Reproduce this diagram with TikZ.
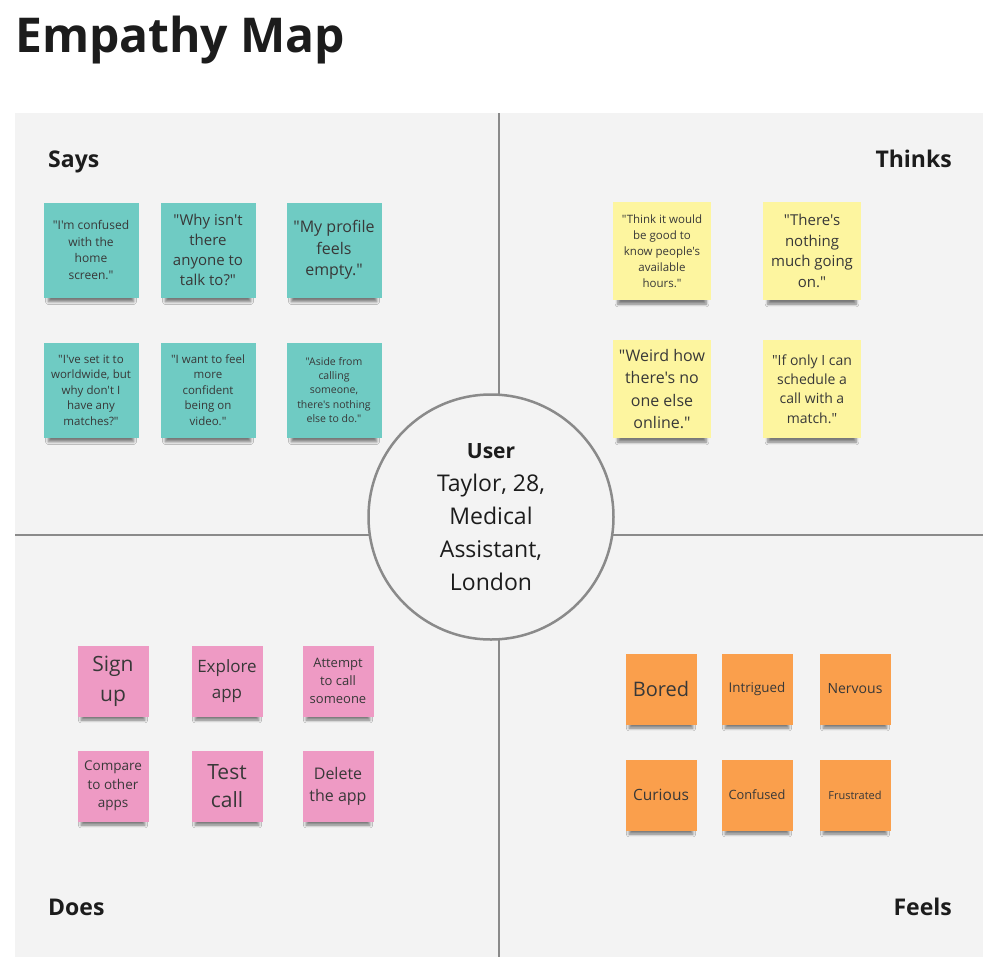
\documentclass[tikz,border=0pt]{standalone}
\usepackage{fontspec}
\setmainfont{Open Sans}[Ligatures=TeXOff]
\usetikzlibrary{shadows.blur}
\definecolor{panelgray}{HTML}{F3F3F3}
\definecolor{linegray}{HTML}{8A8A8A}
\definecolor{inkdark}{HTML}{1C1C1C}
\definecolor{notetext}{HTML}{383838}
\definecolor{sayteal}{HTML}{6FCBC3}
\definecolor{thinkyellow}{HTML}{FDF59F}
\definecolor{doespink}{HTML}{EE9AC4}
\definecolor{feelorange}{HTML}{FA9F4C}
\newcommand{\fs}[2]{\fontsize{#1}{#2}\selectfont}
\tikzset{
  sticky/.style 2 args={minimum width=#1, minimum height=#1, inner sep=0pt, align=center,
    text=notetext, blur shadow={shadow xshift=0pt, shadow yshift=#2,
    shadow scale=0.9, shadow opacity=50, shadow blur steps=6, shadow blur radius=3pt}},
  says/.style={sticky={95pt}{-10pt}, fill=sayteal},
  thinks/.style={sticky={98pt}{-10pt}, fill=thinkyellow},
  does/.style={sticky={71pt}{-8pt}, fill=doespink},
  feels/.style={sticky={71pt}{-8pt}, fill=feelorange},
  seclabel/.style={font=\bfseries\fs{23}{28}, text=inkdark, inner sep=0pt},
  divider/.style={draw=linegray, line width=2.5pt}
}
\begin{document}
\begin{tikzpicture}[x=1pt, y=-1pt]
\useasboundingbox (0,0) rectangle (997,970);
\fill[white] (0,0) rectangle (997,970);
\node[anchor=base west, inner sep=0pt, text=inkdark, font=\bfseries\fs{48}{58}] (title) at (15,52) {Empathy Map};
\fill[panelgray] (15,113) rectangle (983,957);
\draw[divider] (15,535) -- (983,535);
\draw[divider] (499,113) -- (499,957);
\node[seclabel, anchor=base west] (says) at (48,167) {Says};
\node[seclabel, anchor=base east] (thinks) at (952,167) {Thinks};
\node[seclabel, anchor=base west] (doesl) at (48,915) {Does};
\node[seclabel, anchor=base east] (feelsl) at (952,915) {Feels};
\node[circle, draw=linegray, line width=2.5pt, fill=panelgray, minimum size=245pt,
  align=center, text=inkdark, font=\fs{23}{33}] (user) at (491,517)
  {{\bfseries\fs{21}{33}User}\\Taylor, 28,\\Medical\\Assistant,\\London};
% says
\node[says, font=\fs{12}{16.5}] (sa1) at (91,250) {"I'm confused\\with the\\home\\screen."};
\node[says, font=\fs{15}{20}] (sa2) at (208,250) {"Why isn't\\there\\anyone to\\talk to?"};
\node[says, font=\fs{16}{21.5}] (sa3) at (334,250) {"My profile\\feels\\empty."};
\node[says, font=\fs{11.5}{15.5}] (sa4) at (91,390) {"I've set it to\\worldwide, but\\why don't I\\have any\\matches?"};
\node[says, font=\fs{11.5}{15.5}] (sa5) at (208,390) {"I want to feel\\more\\confident\\being on\\video."};
\node[says, font=\fs{10.5}{14.3}] (sa6) at (334,390) {"Aside from\\calling\\someone,\\there's nothing\\else to do."};
% thinks
\node[thinks, font=\fs{11.5}{16}] (th1) at (662,251) {"Think it would\\be good to\\know people's\\available\\hours."};
\node[thinks, font=\fs{15}{20.5}] (th2) at (812,251) {"There's\\nothing\\much going\\on."};
\node[thinks, font=\fs{16}{22.5}] (th3) at (662,389) {"Weird how\\there's no\\one else\\online."};
\node[thinks, font=\fs{14}{19.3}] (th4) at (812,389) {"If only I can\\schedule a\\call with a\\match."};
% does
\node[does, font=\fs{21}{30}] (do1) at (113,681) {Sign\\up};
\node[does, font=\fs{17}{26}] (do2) at (227,681) {Explore\\app};
\node[does, font=\fs{13}{17.7}] (do3) at (338,681) {Attempt\\to call\\someone};
\node[does, font=\fs{13.5}{18.3}] (do4) at (113,786) {Compare\\to other\\apps};
\node[does, font=\fs{21}{28}] (do5) at (227,786) {Test\\call};
\node[does, font=\fs{16}{21.7}] (do6) at (338,786) {Delete\\the app};
% feels
\node[feels, font=\fs{20}{24}] (fe1) at (661,689) {Bored};
\node[feels, font=\fs{13.4}{18}] (fe2) at (757,689) {Intrigued};
\node[feels, font=\fs{14}{18}] (fe3) at (855,689) {Nervous};
\node[feels, font=\fs{15.5}{20}] (fe4) at (661,795) {Curious};
\node[feels, font=\fs{12.8}{18}] (fe5) at (757,795) {Confused};
\node[feels, font=\fs{11}{16}] (fe6) at (855,795) {Frustrated};
\end{tikzpicture}
\end{document}
